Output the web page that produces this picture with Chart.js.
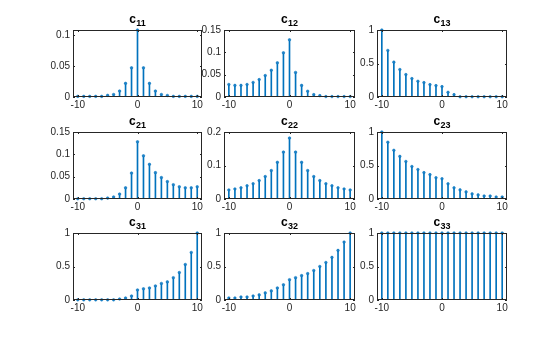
<!DOCTYPE html>
<html>
<head>
<meta charset="utf-8">
<script src="https://cdn.jsdelivr.net/npm/chart.js@4"></script>
<style>
  body { margin: 0; background: #fff; }
  #fig { position: relative; width: 560px; height: 337px; overflow: hidden; }
  #fig canvas { position: absolute; }
</style>
</head>
<body>
<div id="fig"></div>
<script>
// lags shown on every x axis
const lags = [-10,-9,-8,-7,-6,-5,-4,-3,-2,-1,0,1,2,3,4,5,6,7,8,9,10];

// values, one array per panel
const c11 = [0.001,0.001,0.001,0.001,0.001,0.0027,0.004,0.0096,0.022,0.047,0.108,0.047,0.022,0.0096,0.004,0.0025,0.001,0.001,0.001,0.001,0.001];
const c12 = [0.028,0.026,0.026,0.028,0.0326,0.039,0.048,0.060,0.0765,0.099,0.128,0.055,0.026,0.013,0.0053,0.003,0.001,0.001,0.001,0.001,0.001];
const c13 = [1.0,0.695,0.52,0.41,0.335,0.275,0.235,0.215,0.185,0.17,0.155,0.07,0.035,0.004,0.004,0.004,0.004,0.004,0.004,0.004,0.004];
const c21 = [0.0005,0.0005,0.0005,0.0005,0.0005,0.002,0.0046,0.011,0.025,0.058,0.128,0.0967,0.0777,0.059,0.048,0.039,0.032,0.0274,0.025,0.025,0.0274];
const c22 = [0.027,0.030,0.0335,0.0396,0.0457,0.055,0.067,0.085,0.1096,0.140,0.182,0.140,0.1096,0.085,0.067,0.055,0.0457,0.0396,0.0335,0.030,0.027];
const c23 = [1.0,0.848,0.727,0.636,0.56,0.485,0.44,0.394,0.364,0.318,0.303,0.227,0.167,0.136,0.106,0.076,0.061,0.045,0.045,0.03,0.03];
const c31 = [0.002,0.002,0.002,0.002,0.002,0.002,0.002,0.015,0.03,0.06,0.15,0.167,0.18,0.21,0.247,0.27,0.333,0.41,0.53,0.71,1.0];
const c32 = [0.03,0.03,0.045,0.045,0.06,0.076,0.106,0.136,0.18,0.227,0.303,0.333,0.364,0.394,0.44,0.5,0.56,0.636,0.74,0.864,1.0];
const c33 = [1,1,1,1,1,1,1,1,1,1,1,1,1,1,1,1,1,1,1,1,1];

// tick labels
const xTicks = [-10, 0, 10];
const yTicksSmall = [0, 0.05, 0.1];
const yTicksMid = [0, 0.05, 0.1, 0.15];
const yTicksC22 = [0, 0.1, 0.2];
const yTicksUnit = [0, 0.5, 1];

const panels = [
  { sub: '11', vals: c11, ticks: yTicksSmall, max: 0.108 },
  { sub: '12', vals: c12, ticks: yTicksMid, max: 0.15 },
  { sub: '13', vals: c13, ticks: yTicksUnit, max: 1 },
  { sub: '21', vals: c21, ticks: yTicksMid, max: 0.15 },
  { sub: '22', vals: c22, ticks: yTicksC22, max: 0.2 },
  { sub: '23', vals: c23, ticks: yTicksUnit, max: 1 },
  { sub: '31', vals: c31, ticks: yTicksUnit, max: 1 },
  { sub: '32', vals: c32, ticks: yTicksUnit, max: 1 },
  { sub: '33', vals: c33, ticks: yTicksUnit, max: 1 },
];

// axes boxes in page pixels
const colLeft = [73, 224, 377];
const colWidth = [129, 131, 130];
const rowTop = [30, 132, 233];
const axH = 67;
const xLim = 10.8;
const padL = 36, padT = 24, padR = 8, padB = 16;

const BLUE = '#0072BD';
const INK = '#262626';
const FONT = '"Liberation Sans", Arial, sans-serif';

// box with inward ticks plus the c_ij title
const framePlugin = {
  id: 'frame',
  afterDraw(chart, args, opts) {
    const { ctx, chartArea: a } = chart;
    const xs = chart.scales.x, ys = chart.scales.y;
    ctx.save();
    ctx.strokeStyle = INK;
    ctx.lineWidth = 1;
    ctx.strokeRect(a.left + 0.5, a.top + 0.5, a.right - a.left - 1, a.bottom - a.top - 1);
    ctx.beginPath();
    xs.ticks.forEach(t => {
      const px = Math.round(xs.getPixelForValue(t.value)) + 0.5;
      ctx.moveTo(px, a.bottom); ctx.lineTo(px, a.bottom - 2);
      ctx.moveTo(px, a.top); ctx.lineTo(px, a.top + 2);
    });
    ys.ticks.forEach(t => {
      const py = Math.round(ys.getPixelForValue(t.value)) + 0.5;
      ctx.moveTo(a.left, py); ctx.lineTo(a.left + 2, py);
      ctx.moveTo(a.right, py); ctx.lineTo(a.right - 2, py);
    });
    ctx.stroke();

    // title: bold c with subscript
    const bigFont = 'bold 12px ' + FONT, smallFont = 'bold 9px ' + FONT;
    ctx.font = bigFont;
    const wc = ctx.measureText('c').width;
    ctx.font = smallFont;
    const ws = ctx.measureText(opts.sub).width;
    const x0 = (a.left + a.right) / 2 - (wc + ws + 0.5) / 2;
    ctx.fillStyle = '#000';
    ctx.textAlign = 'left';
    ctx.textBaseline = 'alphabetic';
    ctx.font = bigFont;
    ctx.fillText('c', x0, a.top - 7);
    ctx.font = smallFont;
    ctx.fillText(opts.sub, x0 + wc + 0.5, a.top - 4);
    ctx.restore();
  }
};

const fig = document.getElementById('fig');

panels.forEach((p, i) => {
  const r = Math.floor(i / 3), c = i % 3;
  const cv = document.createElement('canvas');
  const w = colWidth[c] + padL + padR, h = axH + padT + padB;
  cv.width = w; cv.height = h;
  cv.style.left = (colLeft[c] - padL) + 'px';
  cv.style.top = (rowTop[r] - padT) + 'px';
  cv.style.width = w + 'px'; cv.style.height = h + 'px';
  fig.appendChild(cv);

  const pts = lags.map((x, k) => ({ x: x, y: p.vals[k] }));

  new Chart(cv, {
    type: 'bar',
    data: {
      datasets: [
        { type: 'scatter', data: pts, backgroundColor: '#1f82c8', borderColor: BLUE,
          borderWidth: 0.5, pointRadius: 1.3, clip: false },
        { type: 'bar', data: pts, backgroundColor: BLUE, barThickness: 1, borderWidth: 0 },
      ]
    },
    options: {
      responsive: false,
      animation: false,
      devicePixelRatio: 1,
      layout: { padding: { left: 0, top: padT, right: padR, bottom: 0 } },
      plugins: { legend: { display: false }, tooltip: { enabled: false }, frame: { sub: p.sub } },
      scales: {
        x: {
          type: 'linear', min: -xLim, max: xLim, offset: false,
          grid: { display: false, drawTicks: false }, border: { display: false },
          afterBuildTicks: s => { s.ticks = xTicks.map(v => ({ value: v })); },
          afterFit: s => { s.height = padB; },
          ticks: { color: INK, font: { family: FONT, size: 10 }, padding: 2, maxRotation: 0,
                   callback: v => String(v) }
        },
        y: {
          min: 0, max: p.max,
          grid: { display: false, drawTicks: false }, border: { display: false },
          afterBuildTicks: s => { s.ticks = p.ticks.map(v => ({ value: v })); },
          afterFit: s => { s.width = padL; },
          ticks: { color: INK, font: { family: FONT, size: 10 }, padding: 3,
                   callback: v => String(v) }
        }
      }
    },
    plugins: [framePlugin]
  });
});
</script>
</body>
</html>
